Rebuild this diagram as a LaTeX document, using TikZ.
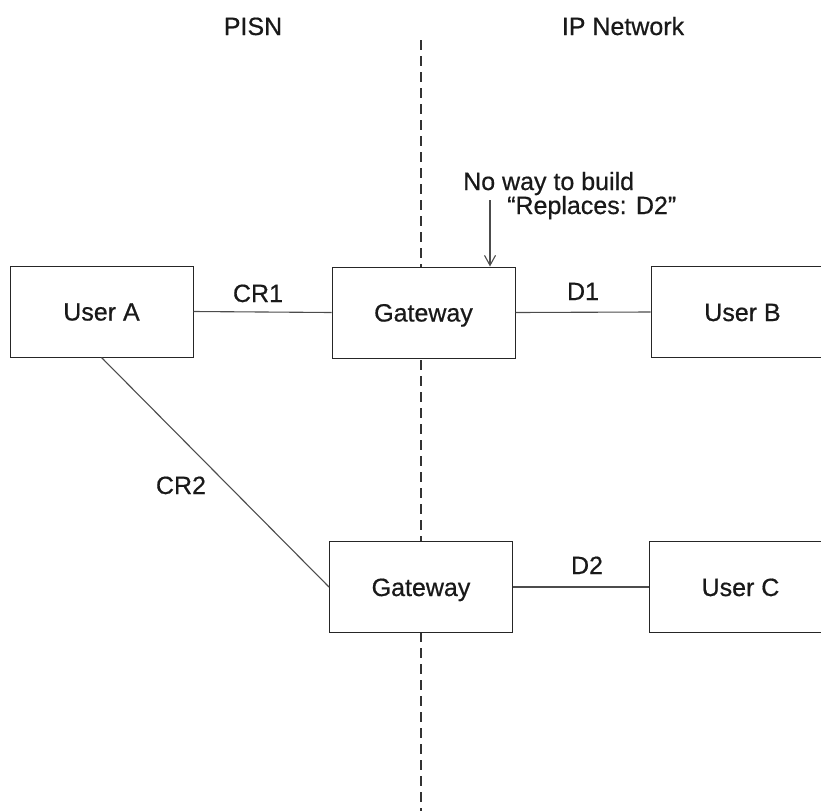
\documentclass[tikz,border=0pt]{standalone}
\usepackage{fontspec}
\setmainfont{Liberation Sans}[FakeBold=0.6]
\usetikzlibrary{arrows.meta}
\begin{document}
\begin{tikzpicture}[x=1pt,y=-1pt,
  box/.style={draw=black!85,line width=1pt,fill=white,minimum width=183pt,minimum height=91pt,
    inner sep=0pt,text height=18pt,text depth=0pt,font=\fontsize{25}{28}\selectfont,text=black!90},
  lbl/.style={anchor=base,inner sep=0pt,font=\fontsize{25}{28}\selectfont,text=black!90},
  conn/.style={draw=black!70,line width=1.1pt},
  divider/.style={draw=black!80,line width=1.3pt,dash pattern=on 10pt off 6pt}]
\useasboundingbox (0,0) rectangle (821,811);
% divider
\coordinate (dtop) at (421,40);
\coordinate (dbot) at (421,811);
\draw[divider] (dtop) -- (dbot);
% region titles
\node[lbl] (pisn) at (253,35) {PISN};
\node[lbl] (ipnet) at (623,35) {IP Network};
% boxes
\node[box] (ua) at (101.5,311.5) {User A};
\node[box] (gw1) at (423.5,312.5) {Gateway};
\node[box] (ub) at (742.5,312) {User B};
\node[box] (gw2) at (421,587) {Gateway};
\node[box] (uc) at (740.5,587) {User C};
% connectors
\draw[conn] (ua.east) -- (gw1.west);
\draw[conn] (gw1.east) -- (ub.west);
\draw[conn] (ua.south) -- (gw2.west);
\draw[conn] (gw2.east) -- (uc.west);
% connector labels
\node[lbl] (cr1) at (258,302) {CR1};
\node[lbl] (d1) at (583,300) {D1};
\node[lbl] (cr2) at (181,494) {CR2};
\node[lbl] (d2) at (587,574) {D2};
% annotation
\node[lbl,anchor=base west] (note1) at (463,190) {No way to build};
\node[lbl,anchor=base west] (note2) at (507,214) {“Replaces: D2”};
\coordinate (arrtop) at (490,200);
\draw[conn,-{Straight Barb[length=10pt,width=11pt]}] (arrtop) -- (arrtop |- gw1.north);
\end{tikzpicture}
\end{document}
